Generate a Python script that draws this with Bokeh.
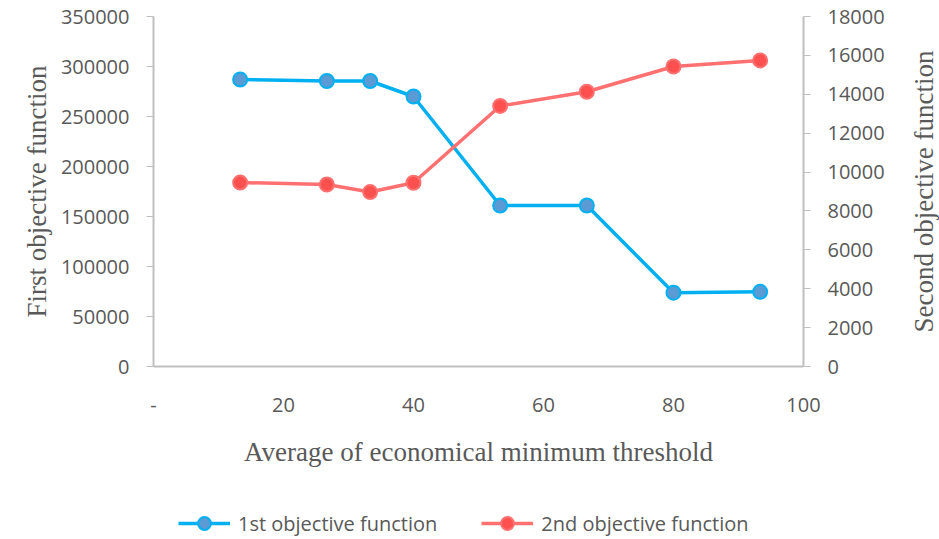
import math
from bokeh.plotting import figure
from bokeh.layouts import column, row
from bokeh.models import Range1d, LinearAxis, FixedTicker, Legend, LegendItem, BasicTickFormatter, Label
from bokeh.embed import file_html
from bokeh.resources import INLINE

x_vals = [13.33, 26.67, 33.33, 40, 53.33, 66.67, 80, 93.33]
first_obj = [287000, 285500, 285500, 270000, 161000, 161000, 73800, 74700]
second_obj = [9460, 9360, 8970, 9450, 13400, 14130, 15430, 15740]
x_ticks = [0, 20, 40, 60, 80, 100]
left_ticks = [0, 50000, 100000, 150000, 200000, 250000, 300000, 350000]
right_ticks = [0, 2000, 4000, 6000, 8000, 10000, 12000, 14000, 16000, 18000]
series_names = ["1st objective function", "2nd objective function"]
right_title_text = "Second objective function"

TICK_FONT = "Open Sans"
TITLE_FONT = "Liberation Serif"
GREY = "#595959"
AXIS_COL = "#BFBFBF"
BLUE_LINE = "#00B0F0"
BLUE_FILL = "#5B9BD5"
RED_LINE = "#FF7070"
RED_FILL = "#FF5050"

p = figure(width=899, height=495, output_backend="svg", toolbar_location=None,
           x_range=Range1d(0, 100), y_range=Range1d(0, 350000),
           min_border_left=153, min_border_right=96, min_border_top=16,
           min_border_bottom=129)
p.extra_y_ranges = {"r": Range1d(0, 18000)}
p.grid.visible = False
p.outline_line_color = None

# x axis
xa = p.xaxis[0]
xa.ticker = FixedTicker(ticks=x_ticks)
xa.major_label_overrides = {0: "-"}
xa.major_tick_line_color = None
xa.minor_tick_line_color = None
xa.axis_line_color = AXIS_COL
xa.axis_line_width = 2
xa.major_label_standoff = 25
xa.major_label_text_font = TICK_FONT
xa.major_label_text_font_size = "20px"
xa.major_label_text_color = GREY
xa.axis_label = "Average of economical minimum threshold"
xa.axis_label_text_font = TITLE_FONT
xa.axis_label_text_font_style = "normal"
xa.axis_label_text_font_size = "27px"
xa.axis_label_text_color = GREY
xa.axis_label_standoff = 22

# left axis
ya = p.yaxis[0]
ya.ticker = FixedTicker(ticks=left_ticks)
ya.formatter = BasicTickFormatter(use_scientific=False)
ya.major_tick_in = 0
ya.major_tick_out = 7
ya.major_tick_line_color = AXIS_COL
ya.minor_tick_line_color = None
ya.axis_line_color = AXIS_COL
ya.axis_line_width = 2
ya.major_label_text_font = TICK_FONT
ya.major_label_text_font_size = "20px"
ya.major_label_text_color = GREY
ya.major_label_standoff = 17
ya.axis_label = "First objective function"
ya.axis_label_text_font = TITLE_FONT
ya.axis_label_text_font_style = "normal"
ya.axis_label_text_font_size = "27px"
ya.axis_label_text_color = GREY
ya.axis_label_standoff = 6

# right axis (ticks and labels)
ra = LinearAxis(y_range_name="r", ticker=FixedTicker(ticks=right_ticks),
                formatter=BasicTickFormatter(use_scientific=False))
ra.major_tick_in = 0
ra.major_tick_out = 7
ra.major_tick_line_color = AXIS_COL
ra.minor_tick_line_color = None
ra.axis_line_color = AXIS_COL
ra.axis_line_width = 2
ra.major_label_text_font = TICK_FONT
ra.major_label_text_font_size = "20px"
ra.major_label_text_color = GREY
ra.major_label_standoff = 17
p.add_layout(ra, "right")

p.line(x_vals, first_obj, line_color=BLUE_LINE, line_width=3.5)
p.scatter(x_vals, first_obj, size=14, fill_color=BLUE_FILL, line_color=BLUE_LINE, line_width=2)
p.line(x_vals, second_obj, y_range_name="r", line_color=RED_LINE, line_width=3.5)
p.scatter(x_vals, second_obj, y_range_name="r", size=14, fill_color=RED_FILL, line_color=RED_LINE, line_width=2)

# right title strip (text reads bottom to top)
tfig = figure(width=40, height=495, output_backend="svg", toolbar_location=None,
              x_range=Range1d(0, 1), y_range=Range1d(0, 1),
              min_border_left=0, min_border_right=0, min_border_top=16, min_border_bottom=129)
tfig.axis.visible = False
tfig.grid.visible = False
tfig.outline_line_color = None
tfig.add_layout(Label(x=0.62, y=0.5, text=right_title_text, angle=math.pi / 2,
                      text_align="center", text_baseline="middle",
                      text_font=TITLE_FONT, text_font_size="27px", text_color=GREY))

# legend strip (its renderers lie outside its view, only the legend shows)
lg = figure(width=939, height=44, output_backend="svg", toolbar_location=None,
            x_range=Range1d(-2, -1), y_range=Range1d(-2, -1),
            min_border_left=153, min_border_right=136, min_border_top=0, min_border_bottom=0)
lg.axis.visible = False
lg.grid.visible = False
lg.outline_line_color = None
b_l = lg.line(x_vals, first_obj, line_color=BLUE_LINE, line_width=3.5)
b_c = lg.scatter(x_vals, first_obj, size=14, fill_color=BLUE_FILL, line_color=BLUE_LINE, line_width=2)
r_l = lg.line(x_vals, second_obj, line_color=RED_LINE, line_width=3.5)
r_c = lg.scatter(x_vals, second_obj, size=14, fill_color=RED_FILL, line_color=RED_LINE, line_width=2)
legend = Legend(items=[LegendItem(label=series_names[0], renderers=[b_l, b_c]),
                       LegendItem(label=series_names[1], renderers=[r_l, r_c])],
                orientation="horizontal", location=(25, 0),
                label_text_font=TICK_FONT, label_text_font_size="20px",
                label_text_color=GREY, border_line_color=None,
                background_fill_alpha=0, glyph_width=52, glyph_height=32, spacing=44,
                label_standoff=8, margin=0, padding=0)
lg.add_layout(legend, "center")

layout = column(row(p, tfig, spacing=0), lg, spacing=0)
open("out.html", "w").write(file_html(layout, INLINE))
